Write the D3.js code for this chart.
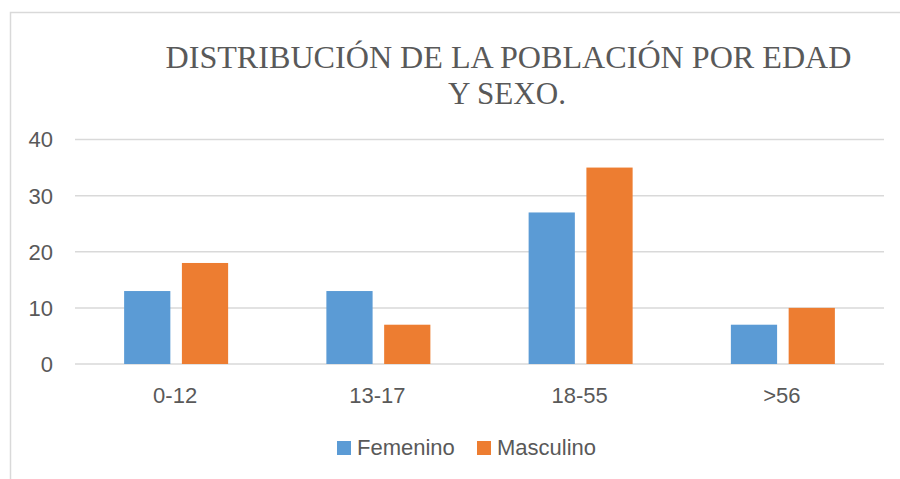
<!DOCTYPE html>
<html><head><meta charset="utf-8">
<script src="https://cdn.jsdelivr.net/npm/d3@7"></script>
<style>body{margin:0;background:#fff}svg{display:block}</style>
</head><body>
<svg id="c" width="900" height="479"></svg>
<script>
const categories = ["0-12", "13-17", "18-55", ">56"];
const seriesNames = ["Femenino", "Masculino"];
const femenino = [13, 13, 27, 7];
const masculino = [18, 7, 35, 10];
const yTicks = [0, 10, 20, 30, 40];
const colors = ["#5b9bd5", "#ed7d31"];
const titleLines = ["DISTRIBUCIÓN DE LA POBLACIÓN POR EDAD", "Y SEXO."];

(function () {
const svg = d3.select("#c");
const values = [femenino, masculino];
const pLeft = 75, pRight = 884, pTop = 139.5, pBottom = 364;
const sans = "'Liberation Sans',Arial,sans-serif";

// frame
svg.append("path").attr("d", "M10.5,479 V12.5 H900")
  .attr("fill", "none").attr("stroke", "#d9d9d9").attr("stroke-width", 1.5);

// title
const t = svg.append("g").attr("fill", "#595959")
  .style("font-family", "'Liberation Serif','Times New Roman',serif").style("font-size", "32px");
t.append("text").attr("x", 508.5).attr("y", 67.5).attr("text-anchor", "middle")
  .attr("textLength", 686).attr("lengthAdjust", "spacingAndGlyphs").text(titleLines[0]);
t.append("text").attr("x", 507).attr("y", 103.5).attr("text-anchor", "middle")
  .attr("textLength", 118).attr("lengthAdjust", "spacingAndGlyphs").text(titleLines[1]);

const y = d3.scaleLinear().domain([0, 40]).range([pBottom, pTop]);
const x0 = d3.scaleBand().domain(categories).range([pLeft, pRight]).paddingInner(0).paddingOuter(0);
const groupW = 104;
const x1 = d3.scaleBand().domain(seriesNames)
  .range([(x0.bandwidth() - groupW) / 2, (x0.bandwidth() + groupW) / 2]).paddingInner(0.2).paddingOuter(0);

// gridlines
svg.append("g").selectAll("line").data(yTicks).join("line")
  .attr("x1", pLeft).attr("x2", pRight).attr("y1", d => y(d)).attr("y2", d => y(d))
  .attr("stroke", "#d9d9d9").attr("stroke-width", 1.5);

// y axis labels
const yAxis = d3.axisLeft(y).tickValues(yTicks).tickSize(0).tickPadding(0);
const ya = svg.append("g").attr("transform", "translate(53,0)").call(yAxis);
ya.select(".domain").remove();
ya.selectAll("text").attr("fill", "#595959").attr("dy", "0.34em")
  .style("font-family", sans).style("font-size", "22px");

// bars
const g = svg.append("g");
categories.forEach((c, i) => {
  seriesNames.forEach((s, j) => {
    g.append("rect")
      .attr("x", x0(c) + x1(s)).attr("width", x1.bandwidth())
      .attr("y", y(values[j][i])).attr("height", y(0) - y(values[j][i]))
      .attr("fill", colors[j]);
  });
});

// x axis labels
const xAxis = d3.axisBottom(x0).tickSize(0).tickPadding(0);
const xa = svg.append("g").attr("transform", "translate(-1,403)").call(xAxis);
xa.select(".domain").remove();
xa.selectAll("text").attr("fill", "#595959").attr("dy", "0")
  .style("font-family", sans).style("font-size", "22px");

// legend
const legX = [337, 477];
const lg = svg.append("g");
seriesNames.forEach((s, j) => {
  lg.append("rect").attr("x", legX[j]).attr("y", 441).attr("width", 14).attr("height", 14).attr("fill", colors[j]);
  lg.append("text").attr("x", legX[j] + 20).attr("y", 455).attr("fill", "#595959")
    .style("font-family", sans).style("font-size", "22px").text(s);
});
})();
</script>
</body></html>
